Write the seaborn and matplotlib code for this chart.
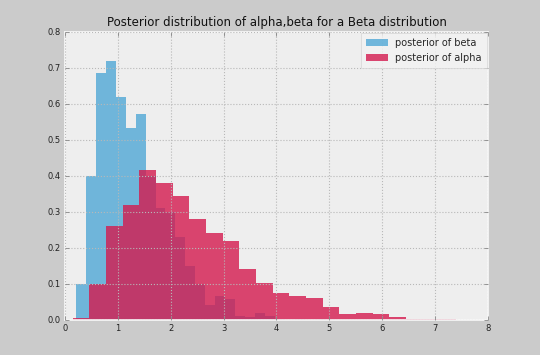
import numpy as np
import pandas as pd
import matplotlib
matplotlib.use("Agg")
import matplotlib.pyplot as plt
import seaborn as sns

# ========== Data (density-normed histograms) ==========
beta_start, beta_width = 0.21, 0.188
beta_heights = [0.10, 0.40, 0.685, 0.72, 0.62, 0.533, 0.571, 0.40, 0.31, 0.30,
                0.23, 0.15, 0.10, 0.042, 0.067, 0.057, 0.012, 0.008, 0.02, 0.01,
                0.004, 0.0, 0.003, 0.0, 0.002]

alpha_start, alpha_width = 0.146, 0.315
alpha_heights = [0.005, 0.10, 0.26, 0.32, 0.417, 0.38, 0.345, 0.28, 0.243, 0.22,
                 0.143, 0.103, 0.074, 0.068, 0.06, 0.037, 0.016, 0.02, 0.016, 0.0075,
                 0.002, 0.004, 0.004, 0.001, 0.0005]

x_ticks = [0, 1, 2, 3, 4, 5, 6, 7, 8]
y_ticks = [0.0, 0.1, 0.2, 0.3, 0.4, 0.5, 0.6, 0.7, 0.8]

TITLE = "Posterior distribution of alpha,beta for a Beta distribution"


def hist_frame(start, width, heights):
    edges = start + width * np.arange(len(heights) + 1)
    df = pd.DataFrame({"x": (edges[:-1] + edges[1:]) / 2, "w": heights})
    return df, [float(e) for e in edges]


sns.set_style("whitegrid")
plt.rcParams["font.family"] = ["DejaVu Sans"]

fig = plt.figure(figsize=(5.4, 3.55), dpi=100, facecolor="#cbcbcb")
ax = fig.add_axes([0.120, 0.0986, 0.784, 0.8114])
ax.set_facecolor("#eeeeee")

beta_df, b_edges = hist_frame(beta_start, beta_width, beta_heights)
alpha_df, a_edges = hist_frame(alpha_start, alpha_width, alpha_heights)

sns.histplot(data=beta_df, x="x", weights="w", bins=b_edges,
             color="#3a9dd2", alpha=0.7, linewidth=0, label="posterior of beta", ax=ax)
sns.histplot(data=alpha_df, x="x", weights="w", bins=a_edges,
             color="#d41a4e", alpha=0.8, linewidth=0, label="posterior of alpha", ax=ax)

ax.set_xlim(0, 8)
ax.set_ylim(0, 0.8)
ax.set_xticks(x_ticks)
ax.set_yticks(y_ticks)
ax.set_xticklabels([str(t) for t in x_ticks])
ax.set_yticklabels([f"{t:.1f}" for t in y_ticks])
ax.set_xlabel("")
ax.set_ylabel("")

# grid sits on top of the bars, as in the original
ax.grid(True, color="#b8b8b8", linestyle=":", linewidth=0.8)
ax.set_axisbelow(False)
for s in ax.spines.values():
    s.set_color("#f8f8f8")
    s.set_linewidth(1.2)
ax.tick_params(direction="in", length=3, width=0.6, color="#888888",
               labelsize=6, labelcolor="#222222", pad=3,
               top=True, right=True, bottom=True, left=True)

ax.set_title(TITLE, fontsize=8.5, color="#111111", pad=4)

leg = ax.legend(loc="upper right", fontsize=7, frameon=True, fancybox=False,
                borderpad=0.5, borderaxespad=0.15, handlelength=2.2, handleheight=0.7)
leg.get_frame().set_facecolor("#f3f3f3")
leg.get_frame().set_edgecolor("#d4d4d4")
leg.get_frame().set_linewidth(0.6)

fig.savefig("out.png", dpi=100, facecolor=fig.get_facecolor())
